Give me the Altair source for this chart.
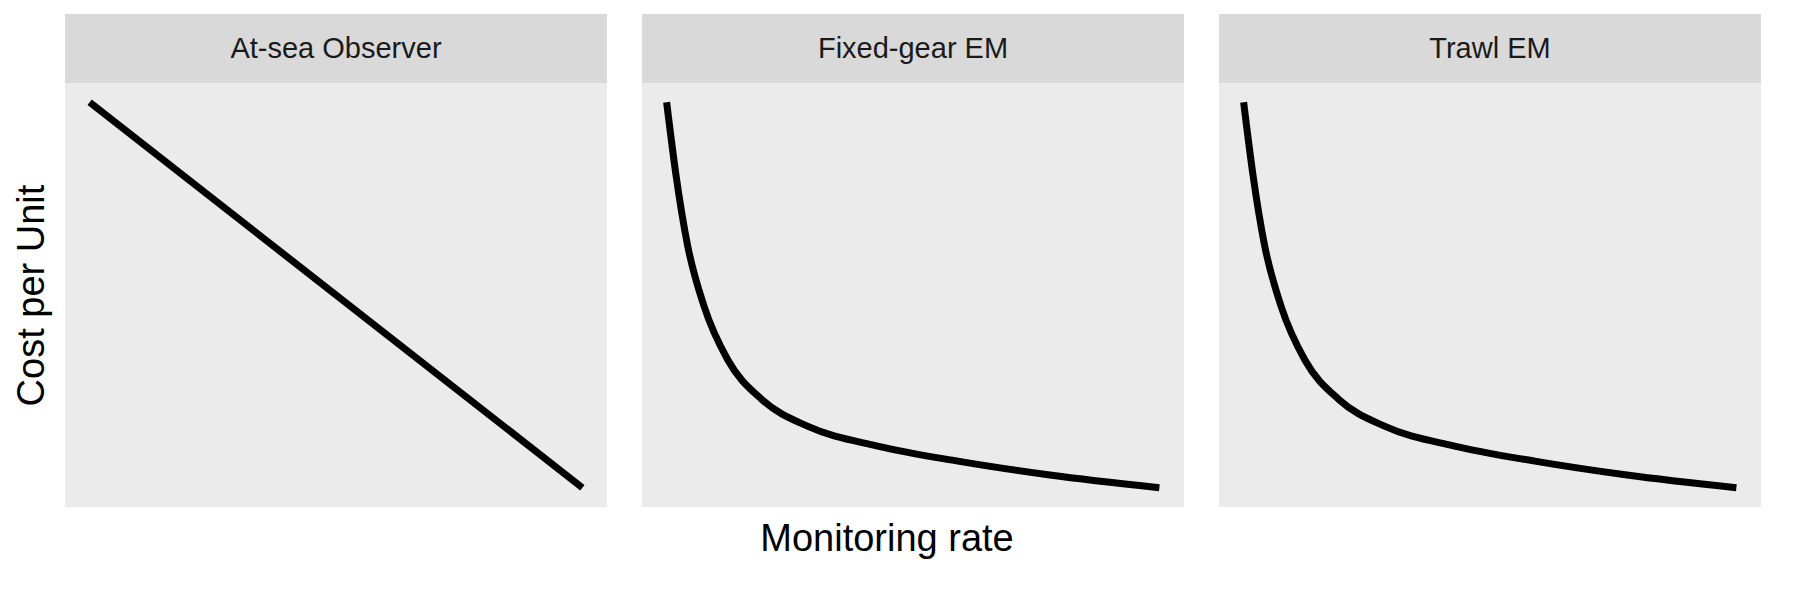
import altair as alt
import pandas as pd

panels = ["At-sea Observer", "Fixed-gear EM", "Trawl EM"]

# rate and cost scaled to 0..1
obs_rate = [0.0, 1.0]
obs_cost = [1.0, 0.0]
em_rate = [0.0, 0.019, 0.042, 0.077, 0.124, 0.194, 0.287, 0.428, 0.591, 0.778, 1.0]
em_cost = [1.0, 0.811, 0.632, 0.467, 0.332, 0.228, 0.159, 0.108, 0.069, 0.033, 0.0]

rows = []
for r, c in zip(obs_rate, obs_cost):
    rows.append({"panel": panels[0], "rate": r, "cost": c})
for p in panels[1:]:
    for r, c in zip(em_rate, em_cost):
        rows.append({"panel": p, "rate": r, "cost": c})
data = pd.DataFrame(rows)

W, H = 542, 424

base = alt.Chart(data).properties(width=W, height=H)

line = base.mark_line(color="black", strokeWidth=7, interpolate="monotone").encode(
    alt.X("rate:Q").scale(domain=[-0.05, 1.05], nice=False).axis(labels=False, ticks=False, domain=False, grid=False).title(None),
    alt.Y("cost:Q").scale(domain=[-0.05, 1.05], nice=False).axis(labels=False, ticks=False, domain=False, grid=False).title("Cost per Unit"),
)

one = base.transform_aggregate(n="count()", groupby=["panel"])
strip = one.mark_rect(color="#d9d9d9", clip=False).encode(
    x=alt.value(0), x2=alt.value(W), y=alt.value(-69), y2=alt.value(0)
)
label = one.mark_text(fontSize=29, font="Liberation Sans", color="#1a1a1a", clip=False).encode(
    x=alt.value(W / 2), y=alt.value(-34), text="panel:N"
)

chart = (strip + label + line).facet(
    alt.Column("panel:N", sort=panels, title=None,
               header=alt.Header(labelExpr="''", labelPadding=0, labelFontSize=1))
).properties(
    spacing=35,
    title=alt.TitleParams("Monitoring rate", orient="bottom", anchor="middle",
                          font="Liberation Sans", fontSize=38, fontWeight="normal", color="black", offset=14),
).configure_view(
    fill="#ebebeb", stroke=None
).configure_axis(
    titleFont="Liberation Sans", titleFontSize=38, titleFontWeight="normal", titleColor="black", titlePadding=14
)

chart.save("out.html", embed_options={"renderer": "svg", "actions": False})
